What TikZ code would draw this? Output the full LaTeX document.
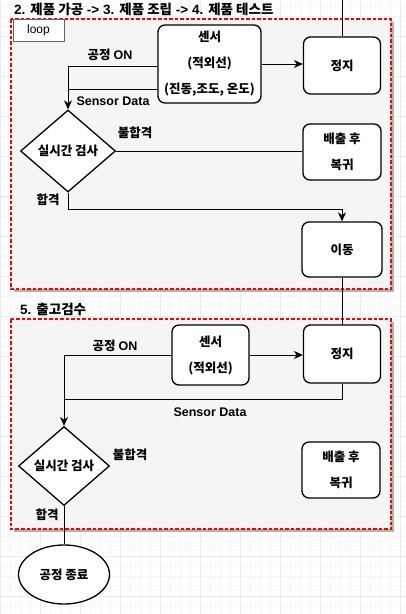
\documentclass[tikz,border=0pt]{standalone}
\usepackage{fontspec}
\setmainfont{Noto Sans CJK KR}
\newfontfamily\latfont{Liberation Sans}
\usepackage{tikz}
\usetikzlibrary{arrows.meta,shapes.geometric}

\tikzset{
  gridminor/.style={draw=gray!7, line width=0.6pt},
  gridmajor/.style={draw=gray!15, line width=0.8pt},
  loopframe/.style={fill=gray!8, draw=red, line width=1.1pt, dash pattern=on 3.5pt off 2pt},
  loopshadow/.style={fill=gray!60},
  looptab/.style={draw=black!60, fill=white, line width=1pt, minimum width=51pt, minimum height=22pt, inner sep=0pt, font=\latfont\fontsize{12}{14}\selectfont},
  procbox/.style={draw, fill=white, rounded corners=7pt, line width=1.3pt, align=center, inner sep=0pt, font=\bfseries\fontsize{12.5}{26}\selectfont},
  decision/.style={draw, fill=white, diamond, line width=1.3pt, inner sep=0pt, font=\bfseries\fontsize{12.5}{14}\selectfont},
  terminal/.style={draw, fill=white, ellipse, line width=1.3pt, inner sep=0pt, font=\bfseries\fontsize{12.5}{14}\selectfont},
  conn/.style={line width=0.9pt},
  flow/.style={conn, -{Stealth[length=9pt,width=8pt]}},
  lbl/.style={inner sep=0pt, font=\bfseries\fontsize{12.5}{14}\selectfont},
  titlelbl/.style={inner sep=0pt, anchor=west, font=\bfseries\fontsize{13.5}{15}\selectfont},
}
\newcommand{\lat}[1]{{\latfont\bfseries #1}}

\begin{document}
\begin{tikzpicture}[x=1pt,y=-1pt]
\useasboundingbox (0,0) rectangle (406,614);
% background grid
\foreach \gx in {0,10,...,400} \draw[gridminor] (\gx,0) -- (\gx,614);
\foreach \gy in {6,16,...,606} \draw[gridminor] (0,\gy) -- (406,\gy);
\foreach \gx in {0,40,...,400} \draw[gridmajor] (\gx,0) -- (\gx,614);
\foreach \gy in {36,76,...,596} \draw[gridmajor] (0,\gy) -- (406,\gy);

% loop frames
\fill[loopshadow] (14,22) rectangle (394,292);
\draw[loopframe] (11,19) rectangle (391,289);
\fill[loopshadow] (14,322) rectangle (394,532);
\draw[loopframe] (11,319) rectangle (391,529);
\node[looptab] (looptag) at (38.5,30) {loop};
\node[titlelbl] (titleA) at (14,9) {\lat{2. }제품 가공\lat{ -> 3. }제품 조립\lat{ -> 4. }제품 테스트};
\node[titlelbl] (titleB) at (20,309) {\lat{5. }출고검수};

% first loop
\coordinate (entry) at (342,0);
\node[procbox, minimum width=103pt, minimum height=78pt] (sensorA) at (209.5,64) {센서\\(적외선)\\(진동,조도, 온도)};
\node[procbox, minimum width=77pt, minimum height=57pt] (stopA) at (342,65.5) {정지};
\node[decision, minimum width=95pt, minimum height=82pt] (checkA) at (68,151) {실시간 검사};
\node[procbox, minimum width=78pt, minimum height=56pt] (ejectA) at (342,152) {배출 후\\복귀};
\node[procbox, minimum width=80pt, minimum height=55pt] (moveA) at (342,249.5) {이동};

\draw[conn] (entry) -- (stopA.north);
\draw[flow] (sensorA.east) -- (sensorA.east -| stopA.west);
\draw[flow] ([yshift=-2pt]sensorA.west) -| (checkA.north);
\draw[conn] ([yshift=-25pt]sensorA.west) -- ([yshift=-25pt]sensorA.west -| checkA.north);
\draw[conn] (checkA.east) -- (checkA.east -| ejectA.west);
\draw[flow] (checkA.south) -- ++(0,17) -| (moveA.north);
\draw[conn] (moveA.south) -- (moveA.south |- 0,325);

\node[lbl] (onA) at (110,55) {공정 \lat{ON}};
\node[lbl] (dataA) at (113,101) {\lat{Sensor Data}};
\node[lbl] (failA) at (135,133) {불합격};
\node[lbl] (passA) at (48,200) {합격};

% second loop
\node[procbox, minimum width=77pt, minimum height=60pt] (sensorB) at (210.5,355) {센서\\(적외선)};
\node[procbox, minimum width=77pt, minimum height=58pt] (stopB) at (342,354) {정지};
\node[decision, minimum width=91pt, minimum height=79pt] (checkB) at (64,466) {실시간 검사};
\node[procbox, minimum width=78pt, minimum height=56pt] (ejectB) at (341,470) {배출 후\\복귀};
\node[terminal, minimum width=91pt, minimum height=59pt] (finish) at (64,574.5) {공정 종료};

\draw[flow] (sensorB.east) -- (sensorB.east -| stopB.west);
\draw[flow] (sensorB.west) -| (checkB.north);
\draw[conn] (stopB.south) |- ([yshift=-16pt]stopB.south -| checkB.north);
\draw[conn] (checkB.south) -- (finish.north);

\node[lbl] (onB) at (115,346) {공정 \lat{ON}};
\node[lbl] (dataB) at (210,412) {\lat{Sensor Data}};
\node[lbl] (failB) at (130,455) {불합격};
\node[lbl] (passB) at (47,515) {합격};
\end{tikzpicture}
\end{document}
